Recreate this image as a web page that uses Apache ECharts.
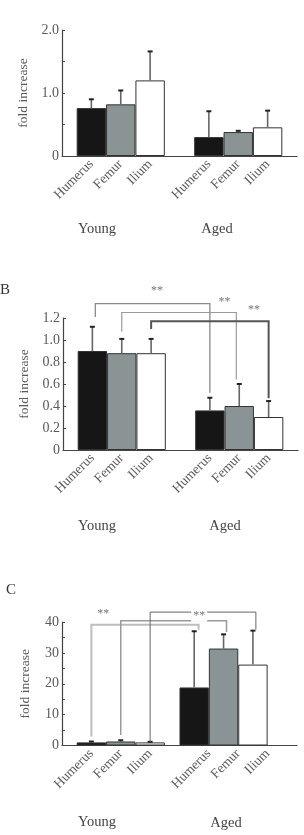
<!DOCTYPE html>
<html>
<head>
<meta charset="UTF-8">
<title>fold increase</title>
<style>
    html, body { margin: 0; background: #fff; }
    #chart { width: 304px; height: 835px; }
</style>
</head>
<body>
<div id="chart"></div>
<script src="https://cdn.jsdelivr.net/npm/echarts@6/dist/echarts.min.js"></script>
<script>
// categories
var bones = ['Humerus', 'Femur', 'Ilium'];
var groups = ['Young', 'Aged'];

// bar positions on the x axis (slot units)
var posAB = [1, 2, 3, 5, 6, 7];
var posC = [1, 2, 3, 4.5, 5.5, 6.5];
// tick label positions (panel C labels sit where A/B's do)
var labelPos = [1, 2, 3, 5, 6, 7];

// panel A: mean and top of error bar
var meanA = [0.76, 0.82, 1.20, 0.30, 0.38, 0.455];
var errA  = [0.90, 1.04, 1.66, 0.71, 0.40, 0.72];
// panel B
var meanB = [0.90, 0.88, 0.88, 0.36, 0.40, 0.30];
var errB  = [1.12, 1.01, 1.01, 0.475, 0.60, 0.445];
// panel C
var meanC = [1.0, 1.3, 1.0, 18.8, 31.4, 26.2];
var errC  = [1.3, 1.7, 1.2, 37.0, 36.0, 37.2];

// significance brackets: [x start, y start, y top, x end, y end]
var bracketsB = [[1.1, 1.21, 1.33, 5, 0.52], [2, 1.075, 1.25, 5.9, 0.64], [3, 1.10, 1.17, 7, 0.47]];
var starsB = [[3.2, 1.45], [5.5, 1.35], [6.5, 1.27]];
var bracketsC = [[1, 2.9, 39.1, 4.65, 37.5], [2, 3.4, 40.4, 5.6, 36.8], [3, 1.2, 43.2, 6.6, 37.5]];
var starsC = [[1.4, 42.5], [4.67, 42]];

var boneColors = ['#161616', '#8b9495', '#ffffff'];
var bracketColorsB = ['#8a8a8a', '#9a9a9a', '#555'];
var bracketWidthsB = [1.3, 1.2, 2];
var bracketColorsC = ['#bdbdbd', '#9a9a9a', '#666'];
var bracketWidthsC = [2, 1.5, 1];

var FONT = 'Liberation Serif';
var TXT = '#5a5a5a';

var chart = echarts.init(document.getElementById('chart'));

var grids = [
    { left: 62, top: 30, width: 235, height: 126 },
    { left: 63, top: 318, width: 235, height: 132 },
    { left: 62, top: 622, width: 235, height: 123.5 }
];

function xAxisFor(i, pos) {
    return {
        type: 'value', gridIndex: i, min: 0, max: 8, interval: 0.5,
        axisLine: { show: true, lineStyle: { color: '#444', width: 1.2 } },
        axisTick: { show: false },
        splitLine: { show: false },
        axisLabel: {
            rotate: 45, margin: 6, color: TXT, fontFamily: FONT, fontSize: 13.5,
            formatter: function (v) {
                var k = pos.indexOf(v);
                return k >= 0 ? bones[k % 3] : '';
            }
        }
    };
}

function yAxisFor(i, max, interval, fmt, gap) {
    return {
        type: 'value', gridIndex: i, min: 0, max: max, interval: interval,
        name: 'fold increase', nameLocation: 'middle', nameGap: gap, nameRotate: 90,
        nameTextStyle: { color: TXT, fontFamily: FONT, fontSize: 13.5 },
        axisLine: { show: true, lineStyle: { color: '#444', width: 1.2 } },
        axisTick: { show: true, inside: true, length: 3, lineStyle: { color: '#444' } },
        splitLine: { show: false },
        axisLabel: { color: TXT, fontFamily: FONT, fontSize: 14, margin: 3, formatter: fmt }
    };
}

function barSeries(i, pos, mean) {
    return {
        type: 'bar', xAxisIndex: i, yAxisIndex: i, barWidth: 29.4,
        data: mean.map(function (m, k) {
            return { value: [pos[k], m], itemStyle: { color: boneColors[k % 3], borderColor: '#333', borderWidth: 1 } };
        })
    };
}

function errorSeries(i, pos, mean, err) {
    return {
        type: 'custom', xAxisIndex: i, yAxisIndex: i, clip: false, z: 3,
        data: mean.map(function (m, k) { return [pos[k], m, err[k]]; }),
        renderItem: function (params, api) {
            var p0 = api.coord([api.value(0), api.value(1)]);
            var p1 = api.coord([api.value(0), api.value(2)]);
            return {
                type: 'group', children: [
                    { type: 'line', shape: { x1: p0[0], y1: p0[1], x2: p1[0], y2: p1[1] }, style: { stroke: '#666', lineWidth: 1.6 } },
                    { type: 'line', shape: { x1: p1[0] - 2.5, y1: p1[1], x2: p1[0] + 2.5, y2: p1[1] }, style: { stroke: '#222', lineWidth: 2 } }
                ]
            };
        }
    };
}

function bracketSeries(i, brackets, colors, widths) {
    return {
        type: 'custom', xAxisIndex: i, yAxisIndex: i, clip: false, z: 4,
        data: brackets.map(function (b, k) { return b.concat(k); }),
        renderItem: function (params, api) {
            var a = api.coord([api.value(0), api.value(1)]);
            var b = api.coord([api.value(0), api.value(2)]);
            var c = api.coord([api.value(3), api.value(2)]);
            var d = api.coord([api.value(3), api.value(4)]);
            var k = api.value(5);
            return {
                type: 'polyline', shape: { points: [a, b, c, d] },
                style: { stroke: colors[k], lineWidth: widths[k], fill: null }
            };
        }
    };
}

function starSeries(i, stars, bg) {
    return {
        type: 'custom', xAxisIndex: i, yAxisIndex: i, clip: false, z: 5,
        data: stars,
        renderItem: function (params, api) {
            var p = api.coord([api.value(0), api.value(1)]);
            return {
                type: 'text', x: p[0], y: p[1],
                style: {
                    text: '**', fill: '#777', font: '12px ' + FONT, align: 'center', verticalAlign: 'middle',
                    backgroundColor: bg, padding: [0, 2]
                }
            };
        }
    };
}

function groupText(x, y, s) {
    return { type: 'text', x: x, y: y, style: { text: s, fill: '#444', font: '14.5px ' + FONT, align: 'center', verticalAlign: 'middle' } };
}

var option = {
    animation: false,
    grid: grids,
    xAxis: [xAxisFor(0, labelPos), xAxisFor(1, labelPos), xAxisFor(2, labelPos)],
    yAxis: [
        yAxisFor(0, 2, 0.5, function (v) { return v === 0 ? '0' : (v % 1 === 0 ? v.toFixed(1) : ''); }, 31),
        yAxisFor(1, 1.2, 0.2, function (v) { return v === 0 ? '0' : v.toFixed(1); }, 29),
        yAxisFor(2, 40, 5, function (v) { return v % 10 === 0 ? String(v) : ''; }, 30)
    ],
    series: [
        barSeries(0, posAB, meanA), errorSeries(0, posAB, meanA, errA),
        barSeries(1, posAB, meanB), errorSeries(1, posAB, meanB, errB),
        bracketSeries(1, bracketsB, bracketColorsB, bracketWidthsB), starSeries(1, starsB, null),
        barSeries(2, posC, meanC), errorSeries(2, posC, meanC, errC),
        bracketSeries(2, bracketsC, bracketColorsC, bracketWidthsC), starSeries(2, starsC, '#fff')
    ],
    graphic: [
        groupText(97, 229, groups[0]), groupText(217, 229, groups[1]),
        groupText(97, 526, groups[0]), groupText(225, 526, groups[1]),
        groupText(97, 822, groups[0]), groupText(226, 823, groups[1]),
        { type: 'text', x: 0, y: 290, style: { text: 'B', fill: '#333', font: '15px ' + FONT, verticalAlign: 'middle' } },
        { type: 'text', x: 6, y: 590, style: { text: 'C', fill: '#333', font: '15px ' + FONT, verticalAlign: 'middle' } }
    ]
};

chart.setOption(option);
</script>
</body>
</html>
